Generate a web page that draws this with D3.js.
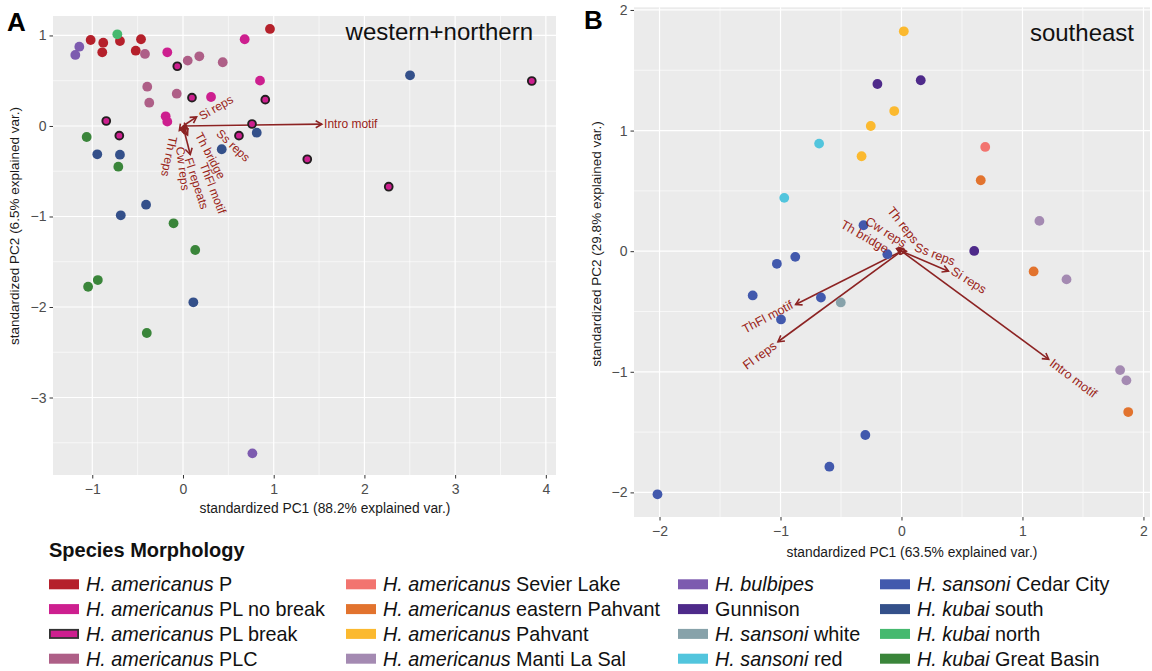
<!DOCTYPE html>
<html>
<head>
<meta charset="utf-8">
<script src="https://cdn.jsdelivr.net/npm/d3@7"></script>
<style>
  body { margin: 0; background: #fff; }
  svg { display: block; }
  text { font-family: "Liberation Sans", Arial, Helvetica, sans-serif; }
</style>
</head>
<body>
<svg id="chart" width="1152" height="671"></svg>
<script>
// ---- morphology groups (legend order, column-major) ----
const groupItalic = ["H. americanus", "H. americanus", "H. americanus", "H. americanus",
  "H. americanus", "H. americanus", "H. americanus", "H. americanus",
  "H. bulbipes", "", "H. sansoni", "H. sansoni",
  "H. sansoni", "H. kubai", "H. kubai", "H. kubai"];
const groupPlain = [" P", " PL no break", " PL break", " PLC",
  " Sevier Lake", " eastern Pahvant", " Pahvant", " Manti La Sal",
  "", "Gunnison", " white", " red",
  " Cedar City", " south", " north", " Great Basin"];
const groupColors = ["#b5202b", "#cd1f8f", "#cd1f8f", "#ae5f87",
  "#f2746f", "#e2732e", "#fbb92f", "#a48ab2",
  "#7d5baf", "#4e2a8a", "#87a2aa", "#52c5dd",
  "#4259ad", "#34508a", "#45b96f", "#3a853a"];
const outlinedGroup = 2; // PL break drawn with a dark ring

// ---- panel A: western + northern PCA scores ----
const westPC1 = [-1.143, -1.187, 0.765,
  -1.018, -0.879, -0.695, -0.890, -0.463, -0.521, 0.959,
  -0.724,
  -0.419, 0.052, 0.180, 0.438, -0.394, -0.372, -0.069,
  -0.173, 0.680, 0.849, 0.309, -0.191, -0.173,
  -0.063, 0.099, 0.907, -0.846, -0.702, 0.761, 0.617, 1.370, 2.268, 3.845,
  -1.062, -0.713, -0.104, 0.135, -0.939, -1.046, -0.399,
  -0.945, -0.695, 0.427, 0.813, 2.503, -0.407, -0.686, 0.114];
const westPC2 = [0.876, 0.785, -3.617,
  0.950, 0.920, 0.939, 0.814, 0.958, 0.832, 1.072,
  1.013,
  0.796, 0.722, 0.770, 0.704, 0.434, 0.257, 0.357,
  0.814, 0.958, 0.501, 0.320, 0.107, 0.048,
  0.660, 0.313, 0.291, 0.055, -0.107, 0.022, -0.107, -0.368, -0.671, 0.497,
  -0.122, -0.450, -1.075, -1.370, -1.702, -1.776, -2.287,
  -0.313, -0.317, -0.257, -0.074, 0.560, -0.870, -0.987, -1.948];
const westGroup = [8, 8, 8,
  0, 0, 0, 0, 0, 0, 0,
  14,
  3, 3, 3, 3, 3, 3, 3,
  1, 1, 1, 1, 1, 1,
  2, 2, 2, 2, 2, 2, 2, 2, 2, 2,
  15, 15, 15, 15, 15, 15, 15,
  13, 13, 13, 13, 13, 13, 13, 13];

// panel A loadings
const westVar = ["Intro motif", "Si reps", "Ss reps", "Th bridge", "ThFl motif", "Fl repeats", "Cw reps", "Th reps"];
const westLoadPC1 = [1.53, 0.15, 0.05, 0.03, 0.05, 0.08, 0.01, -0.04];
const westLoadPC2 = [0.02, 0.10, -0.03, -0.06, -0.10, -0.315, -0.08, -0.05];
// label anchors (data units) and text angles
const westLabelPC1 = [1.555, 0.187, 0.389, 0.169, 0.224, 0.058, -0.033, -0.107];
const westLabelPC2 = [0.02, 0.099, -0.063, -0.081, -0.412, -0.354, -0.229, -0.118];
const westLabelAngle = [0, -30, 43, 62, 69, 72, 83, 102];

// ---- panel B: southeast PCA scores ----
const eastPC1 = [0.019, -0.060, -0.254, -0.330,
  -0.199, 0.159, 0.601,
  -0.681, -0.969,
  0.692,
  0.655, 1.092, 1.874,
  1.140, 1.364, 1.807, 1.859,
  -0.314, -0.117, -1.030, -0.878, -1.230, -0.666, -0.996, -0.299, -0.596, -2.017,
  -0.502];
const eastPC2 = [1.823, 1.162, 1.038, 0.787,
  1.386, 1.417, 0.002,
  0.892, 0.442,
  0.864,
  0.588, -0.168, -1.334,
  0.251, -0.234, -0.986, -1.071,
  0.215, -0.025, -0.105, -0.047, -0.367, -0.384, -0.566, -1.524, -1.787, -2.016,
  -0.425];
const eastGroup = [6, 6, 6, 6,
  9, 9, 9,
  11, 11,
  4,
  5, 5, 5,
  7, 7, 7, 7,
  12, 12, 12, 12, 12, 12, 12, 12, 12, 12,
  10];

// panel B loadings
const eastVar = ["Intro motif", "Si reps", "Ss reps", "Th reps", "Cw reps", "Th bridge", "ThFl motif", "Fl reps"];
const eastLoadPC1 = [1.217, 0.388, 0.04, -0.02, -0.03, -0.04, -0.875, -1.021];
const eastLoadPC2 = [-0.897, -0.166, 0.00, 0.03, 0.025, 0.02, -0.442, -0.751];
const eastLabelPC1 = [1.237, 0.419, 0.112, -0.095, -0.288, -0.494, -1.308, -1.299];
const eastLabelPC2 = [-0.917, -0.157, 0.036, 0.354, 0.257, 0.229, -0.655, -0.959];
const eastLabelAngle = [37, 32, 21, 52, 32, 30, -28, -36];

// ---- drawing ----
const svg = d3.select("#chart");
const arrowColor = "#8c2323";
const labelColor = "#9a2418";

function panel(cfg) {
  const x = d3.scaleLinear().domain(cfg.xDomain).range([cfg.left, cfg.right]);
  const y = d3.scaleLinear().domain(cfg.yDomain).range([cfg.bottom, cfg.top]);
  const g = svg.append("g");

  g.append("rect")
    .attr("x", cfg.left).attr("y", cfg.top)
    .attr("width", cfg.right - cfg.left).attr("height", cfg.bottom - cfg.top)
    .attr("fill", "#ebebeb");

  const grid = g.append("g");
  const inX = v => v > cfg.xDomain[0] && v < cfg.xDomain[1];
  const inY = v => v > cfg.yDomain[0] && v < cfg.yDomain[1];
  const xMinor = d3.range(Math.ceil(cfg.xDomain[0] * 2) / 2, cfg.xDomain[1], 0.5).filter(v => Math.abs(v % 1) > 0.01);
  const yMinor = d3.range(Math.ceil(cfg.yDomain[0] * 2) / 2, cfg.yDomain[1], 0.5).filter(v => Math.abs(v % 1) > 0.01);
  grid.selectAll(".xm").data(xMinor.filter(inX)).join("line")
    .attr("x1", d => x(d)).attr("x2", d => x(d)).attr("y1", cfg.top).attr("y2", cfg.bottom)
    .attr("stroke", "#fff").attr("stroke-width", 0.6);
  grid.selectAll(".ym").data(yMinor.filter(inY)).join("line")
    .attr("y1", d => y(d)).attr("y2", d => y(d)).attr("x1", cfg.left).attr("x2", cfg.right)
    .attr("stroke", "#fff").attr("stroke-width", 0.6);
  grid.selectAll(".xM").data(cfg.xTicks.filter(inX)).join("line")
    .attr("x1", d => x(d)).attr("x2", d => x(d)).attr("y1", cfg.top).attr("y2", cfg.bottom)
    .attr("stroke", "#fff").attr("stroke-width", 1.2);
  grid.selectAll(".yM").data(cfg.yTicks.filter(inY)).join("line")
    .attr("y1", d => y(d)).attr("y2", d => y(d)).attr("x1", cfg.left).attr("x2", cfg.right)
    .attr("stroke", "#fff").attr("stroke-width", 1.2);

  const fmt = d => d < 0 ? "\u2212" + Math.abs(d) : String(d);
  const xAxis = g.append("g").attr("transform", `translate(0,${cfg.bottom})`)
    .call(d3.axisBottom(x).tickValues(cfg.xTicks).tickFormat(fmt).tickSize(3.5).tickPadding(5.5));
  const yAxis = g.append("g").attr("transform", `translate(${cfg.left},0)`)
    .call(d3.axisLeft(y).tickValues(cfg.yTicks).tickFormat(fmt).tickSize(3.5).tickPadding(3));
  [xAxis, yAxis].forEach(a => {
    a.select(".domain").remove();
    a.selectAll(".tick line").attr("stroke", "#333").attr("stroke-width", 1);
    a.selectAll(".tick text").attr("fill", "#4d4d4d").attr("font-size", 14)
      .attr("font-family", "'Liberation Sans', Arial, sans-serif");
  });

  // loading arrows
  const ar = g.append("g");
  cfg.loadX.forEach((lx, i) => {
    const x0 = x(0), y0 = y(0), x1 = x(lx), y1 = y(cfg.loadY[i]);
    ar.append("line").attr("x1", x0).attr("y1", y0).attr("x2", x1).attr("y2", y1)
      .attr("stroke", arrowColor).attr("stroke-width", 1.6);
    const ang = Math.atan2(y1 - y0, x1 - x0);
    const L = 7, spread = Math.PI / 6;
    const p = [ang + Math.PI - spread, ang + Math.PI + spread]
      .map(a => [x1 + L * Math.cos(a), y1 + L * Math.sin(a)]);
    ar.append("path")
      .attr("d", `M${p[0][0]},${p[0][1]}L${x1},${y1}L${p[1][0]},${p[1][1]}`)
      .attr("fill", "none").attr("stroke", arrowColor).attr("stroke-width", 1.6)
      .attr("stroke-linejoin", "miter");
  });

  // sample points
  const pts = cfg.pc1.map((v, i) => ({ x: v, y: cfg.pc2[i], grp: cfg.grp[i] }));
  g.append("g").selectAll("circle").data(pts).join("circle")
    .attr("cx", d => x(d.x)).attr("cy", d => y(d.y))
    .attr("r", d => d.grp === outlinedGroup ? 3.9 : 4.9)
    .attr("fill", d => groupColors[d.grp])
    .attr("stroke", d => d.grp === outlinedGroup ? "#231f20" : "none")
    .attr("stroke-width", 1.9);

  // loading labels
  const lab = g.append("g");
  cfg.vars.forEach((name, i) => {
    lab.append("text")
      .attr("transform", `translate(${x(cfg.labX[i])},${y(cfg.labY[i])}) rotate(${cfg.labA[i]})`)
      .attr("dominant-baseline", "central")
      .attr("font-size", cfg.labSize)
      .attr("fill", labelColor)
      .text(name);
  });

  // axis titles
  g.append("text").attr("x", cfg.xTitleX).attr("y", cfg.xTitleY)
    .attr("text-anchor", "middle").attr("font-size", 13.8).attr("fill", "#1a1a1a")
    .text(cfg.xTitle);
  g.append("text").attr("transform", `translate(${cfg.yTitleX},${cfg.yTitleY}) rotate(-90)`)
    .attr("text-anchor", "middle").attr("font-size", 13.5).attr("fill", "#1a1a1a")
    .text(cfg.yTitle);

  // region name
  g.append("text").attr("x", cfg.regionX).attr("y", cfg.regionY)
    .attr("text-anchor", "end").attr("font-size", 24).attr("fill", "#111")
    .text(cfg.region);

  // panel letter
  g.append("text").attr("x", cfg.letterX).attr("y", cfg.letterY)
    .attr("font-size", 26).attr("font-weight", "bold").attr("fill", "#000")
    .text(cfg.letter);
}

panel({
  left: 53, right: 556, top: 16, bottom: 475,
  xDomain: [-1.433, 4.112], yDomain: [-3.856, 1.215],
  xTicks: [-1, 0, 1, 2, 3, 4], yTicks: [-3, -2, -1, 0, 1],
  pc1: westPC1, pc2: westPC2, grp: westGroup,
  vars: westVar, loadX: westLoadPC1, loadY: westLoadPC2,
  labX: westLabelPC1, labY: westLabelPC2, labA: westLabelAngle, labSize: 12,
  xTitle: "standardized PC1 (88.2% explained var.)", xTitleX: 325, xTitleY: 513,
  yTitle: "standardized PC2 (6.5% explained var.)", yTitleX: 19, yTitleY: 226,
  region: "western+northern", regionX: 533, regionY: 39.5,
  letter: "A", letterX: 7, letterY: 31
});

panel({
  left: 634, right: 1150, top: 7.3, bottom: 517,
  xDomain: [-2.211, 2.054], yDomain: [-2.204, 2.022],
  xTicks: [-2, -1, 0, 1, 2], yTicks: [-2, -1, 0, 1, 2],
  pc1: eastPC1, pc2: eastPC2, grp: eastGroup,
  vars: eastVar, loadX: eastLoadPC1, loadY: eastLoadPC2,
  labX: eastLabelPC1, labY: eastLabelPC2, labA: eastLabelAngle, labSize: 12.5,
  xTitle: "standardized PC1 (63.5% explained var.)", xTitleX: 912, xTitleY: 557,
  yTitle: "standardized PC2 (29.8% explained var.)", yTitleX: 601, yTitleY: 244,
  region: "southeast", regionX: 1134, regionY: 41,
  letter: "B", letterX: 584, letterY: 29
});

// ---- legend ----
const legend = svg.append("g");
legend.append("text").attr("x", 49).attr("y", 557)
  .attr("font-size", 20).attr("font-weight", "bold").attr("fill", "#111")
  .text("Species Morphology");
const colX = [49, 346, 678, 880];
const rowY = [584.3, 609.1, 633.9, 658.7];
groupColors.forEach((c, i) => {
  const col = Math.floor(i / 4), row = i % 4;
  const gx = colX[col], gy = rowY[row];
  const outlined = i === outlinedGroup;
  legend.append("rect")
    .attr("x", gx + (outlined ? 0.9 : 0)).attr("y", gy - 5 + (outlined ? 0.9 : 0))
    .attr("width", 30 - (outlined ? 1.8 : 0)).attr("height", 10 - (outlined ? 1.8 : 0))
    .attr("fill", c)
    .attr("stroke", outlined ? "#333" : "none").attr("stroke-width", 1.8);
  const t = legend.append("text").attr("x", gx + 37).attr("y", gy + 7)
    .attr("font-size", 19.8).attr("fill", "#111");
  if (groupItalic[i]) t.append("tspan").attr("font-style", "italic").text(groupItalic[i]);
  if (groupPlain[i]) t.append("tspan").attr("xml:space", "preserve").text(groupPlain[i]);
});
</script>
</body>
</html>
